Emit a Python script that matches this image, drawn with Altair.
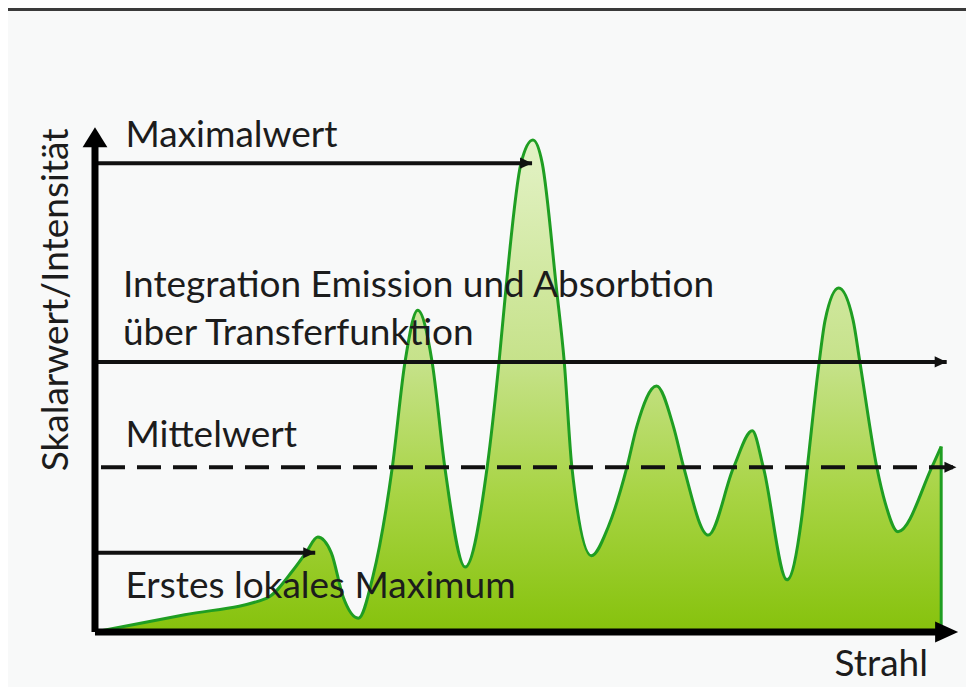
import altair as alt
import pandas as pd

# ---- data ----
# position along the ray (0..100) and scalar value / intensity (0..100)
ray_pos = [0.6, 10.6, 20.3, 23.4, 24.9, 26.3, 27.9, 29.3, 31.1, 32.8,
           35.1, 36.6, 38.1, 39.8, 41.3, 43.7, 46.3, 47.7, 48.5, 50.3,
           51.7, 52.8, 54.5, 55.4, 56.3, 58.6, 60.6, 62.8, 63.95, 66.3,
           68.3, 69.5, 72.4, 75.4, 77.6, 78.9, 81.7,
           83.4, 84.1, 85.5, 86.2, 87.8, 89.5, 90.3, 92.3, 93.3, 94.8,
           98.8, 99.9]
intensity = [0.2, 3.5, 6.9, 12.6, 16.1, 19.3, 16.1, 7.1, 2.8, 11.2,
             33.5, 54.9, 65.4, 54.9, 33.5, 13.2, 33.5, 54.9, 69.5, 95.3,
             100.0, 95.3, 69.5, 54.9, 33.5, 15.5, 21.4, 33.5, 41.7, 50.0,
             41.7, 33.5, 19.7, 33.5, 40.9, 33.5, 10.6,
             22.8, 33.5, 54.9, 63.4, 69.9, 63.4, 54.9, 33.5, 26.2, 20.4,
             33.5, 37.7]

# reference levels: name, level, arrow end
level_names = ["Maximalwert", "Integration", "Mittelwert", "Erstes lokales Maximum"]
level_values = [95.3, 54.9, 33.5, 16.1]
level_ends = [51.6, 100.55, 101.7, 26.0]

# text labels
label_texts = ["Maximalwert",
               "Integration Emission und Absorbtion",
               "über Transferfunktion",
               "Mittelwert",
               "Erstes lokales Maximum"]
label_x = [3.6, 3.3, 3.3, 3.6, 3.6]
label_y = [98.6, 68.1, 58.3, 37.6, 6.9]

x_title = "Strahl"
y_title = "Skalarwert/Intensität"

# ---- layout ----
W, H = 958, 679
XMIN, XMAX = -10.27, 102.83
YMIN, YMAX = -11.18, 126.83
FONT = "Lato"
FS = 37
TXT = "#1c1c1c"

xs = alt.Scale(domain=[XMIN, XMAX], nice=False, zero=False)
ys = alt.Scale(domain=[YMIN, YMAX], nice=False, zero=False)


def X(f="x"):
    return alt.X(f"{f}:Q", scale=xs, axis=None)


def Y(f="y"):
    return alt.Y(f"{f}:Q", scale=ys, axis=None)


curve = pd.DataFrame({"x": ray_pos, "y": intensity})

area = alt.Chart(curve).mark_area(
    interpolate="monotone",
    color=alt.Gradient(
        gradient="linear",
        stops=[alt.GradientStop(color="#e3f2c6", offset=0),
               alt.GradientStop(color="#c6e28a", offset=0.45),
               alt.GradientStop(color="#a8d444", offset=0.72),
               alt.GradientStop(color="#86c20c", offset=1)],
        x1=0, x2=0, y1=0, y2=1),
).encode(x=X(), y=Y(), y2=alt.datum(0))

line = alt.Chart(curve).mark_line(
    interpolate="monotone", color="#1f9e22", strokeWidth=3
).encode(x=X(), y=Y())

end_df = pd.DataFrame({"x": [ray_pos[-1]], "y": [intensity[-1]], "y0": [0.0]})
end_rule = alt.Chart(end_df).mark_rule(color="#1f9e22", strokeWidth=3).encode(
    x=X(), y=Y(), y2="y0:Q")

lv = pd.DataFrame({"name": level_names, "y": level_values,
                   "x0": [0.0] * 4, "x1": level_ends})
solid = lv[lv["name"] != "Mittelwert"]
dash = lv[lv["name"] == "Mittelwert"]

solid_rules = alt.Chart(solid).mark_rule(color="#111", strokeWidth=4).encode(
    x=X("x0"), x2="x1:Q", y=Y())
dash_rule = alt.Chart(dash).mark_rule(
    color="#111", strokeWidth=4, strokeDash=[24, 12], strokeDashOffset=-6
).encode(x=X("x0"), x2="x1:Q", y=Y())
small_heads = alt.Chart(lv).mark_point(
    shape="M0,0L-1,-0.46L-1,0.46Z", filled=True, color="#111", opacity=1, size=576
).encode(x=X("x1"), y=Y())

# axes
axes_df = pd.DataFrame({"x": [0.0], "y": [0.0], "xe": [99.8], "ye": [100.4],
                        "xt": [101.9], "yt": [102.6]})
x_axis = alt.Chart(axes_df).mark_rule(color="#000", strokeWidth=7).encode(
    x=X("x"), x2="xe:Q", y=Y("y"))
y_axis = alt.Chart(axes_df).mark_rule(color="#000", strokeWidth=7).encode(
    x=X("x"), y=Y("y"), y2="ye:Q")
x_head = alt.Chart(axes_df).mark_point(
    shape="M0,0L-1,-0.46L-1,0.46Z", filled=True, color="#000", opacity=1, size=2116
).encode(x=X("xt"), y=Y("y"))
y_head = alt.Chart(axes_df).mark_point(
    shape="M0,0L-0.62,1L0.62,1Z", filled=True, color="#000", opacity=1, size=1600
).encode(x=X("x"), y=Y("yt"))

top_df = pd.DataFrame({"x": [XMIN], "x2": [XMAX], "y": [126.5]})
top_rule = alt.Chart(top_df).mark_rule(color="#3a3a3a", strokeWidth=3).encode(
    x=X(), x2="x2:Q", y=Y())

labels_df = pd.DataFrame({"t": label_texts, "x": label_x, "y": label_y})
labels = alt.Chart(labels_df).mark_text(
    align="left", baseline="alphabetic", font=FONT, fontSize=FS, color=TXT
).encode(x=X(), y=Y(), text="t:N")

xt_df = pd.DataFrame({"t": [x_title], "x": [87.3], "y": [-9.0]})
x_lab = alt.Chart(xt_df).mark_text(
    align="left", baseline="alphabetic", font=FONT, fontSize=FS, color=TXT
).encode(x=X(), y=Y(), text="t:N")

yt_df = pd.DataFrame({"t": [y_title], "x": [-3.2], "y": [67.5]})
y_lab = alt.Chart(yt_df).mark_text(
    align="center", baseline="alphabetic", angle=270, font=FONT, fontSize=FS, color=TXT
).encode(x=X(), y=Y(), text="t:N")

chart = alt.layer(
    top_rule, area, line, end_rule, solid_rules, dash_rule, small_heads,
    x_axis, y_axis, x_head, y_head, labels, x_lab, y_lab
).properties(
    width=W, height=H,
    autosize=alt.AutoSizeParams(type="none"),
    padding=0,
    background="#f8f9f9",
).configure_view(stroke=None)

chart.save("out.html", embed_options={"renderer": "svg", "actions": False})
